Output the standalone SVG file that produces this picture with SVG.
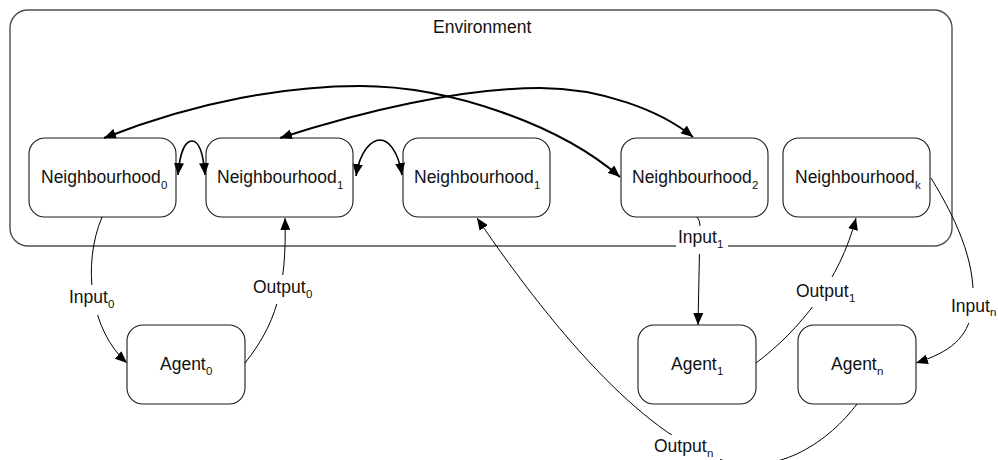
<svg xmlns="http://www.w3.org/2000/svg" width="998" height="460" viewBox="0 0 998 460">
  <defs>
    <style>
      .env { fill: #ffffff; stroke: #4d4d4d; stroke-width: 1.4; }
      .box { fill: #ffffff; stroke: #1a1a1a; stroke-width: 1.1; }
      .txt { font-family: "Liberation Sans", Arial, sans-serif; font-size: 17.5px; fill: #111111; }
      .sub { font-family: "Liberation Sans", Arial, sans-serif; font-size: 11.5px; fill: #111111; }
      .thick { fill: none; stroke: #000000; stroke-width: 2; }
      .thin { fill: none; stroke: #000000; stroke-width: 1; }
      .mid { fill: none; stroke: #000000; stroke-width: 1.6; }
      .lblbg { fill: #ffffff; stroke: none; }
    </style>
    <marker id="head" viewBox="0 0 12 10" refX="12" refY="5" markerWidth="12" markerHeight="10" markerUnits="userSpaceOnUse" orient="auto-start-reverse">
      <path d="M0,0 L12,5 L0,10 z" fill="#000000"/>
    </marker>
  </defs>

  <!-- environment frame -->
  <g id="environment">
    <rect class="env" x="10" y="10" width="942" height="236" rx="18" ry="18"/>
    <text class="txt" x="433" y="33">Environment</text>
  </g>

  <!-- neighbourhoods -->
  <g id="neighbourhood0">
    <rect class="box" x="29" y="138" width="147" height="79" rx="16" ry="16"/>
    <text class="txt" x="41" y="183">Neighbourhood</text>
    <text class="sub" x="161" y="189">0</text>
  </g>
  <g id="neighbourhood1a">
    <rect class="box" x="206" y="138" width="147" height="79" rx="16" ry="16"/>
    <text class="txt" x="217" y="183">Neighbourhood</text>
    <text class="sub" x="337" y="189">1</text>
  </g>
  <g id="neighbourhood1b">
    <rect class="box" x="403" y="138" width="147" height="79" rx="16" ry="16"/>
    <text class="txt" x="414" y="183">Neighbourhood</text>
    <text class="sub" x="534" y="189">1</text>
  </g>
  <g id="neighbourhood2">
    <rect class="box" x="621" y="138" width="147" height="79" rx="16" ry="16"/>
    <text class="txt" x="632" y="183">Neighbourhood</text>
    <text class="sub" x="752" y="189">2</text>
  </g>
  <g id="neighbourhoodk">
    <rect class="box" x="783" y="138" width="147" height="79" rx="16" ry="16"/>
    <text class="txt" x="795" y="183">Neighbourhood</text>
    <text class="sub" x="915" y="189">k</text>
  </g>

  <!-- agents -->
  <g id="agent0">
    <rect class="box" x="127" y="325" width="118" height="79" rx="16" ry="16"/>
    <text class="txt" x="160" y="370">Agent</text>
    <text class="sub" x="206" y="375">0</text>
  </g>
  <g id="agent1">
    <rect class="box" x="638" y="325" width="118" height="79" rx="16" ry="16"/>
    <text class="txt" x="671" y="370">Agent</text>
    <text class="sub" x="717" y="375">1</text>
  </g>
  <g id="agentn">
    <rect class="box" x="798" y="325" width="118" height="79" rx="16" ry="16"/>
    <text class="txt" x="831" y="370">Agent</text>
    <text class="sub" x="877" y="375">n</text>
  </g>

  <!-- connectors -->
  <g id="connectors">
    <!-- long links between neighbourhoods -->
    <path class="thick" d="M104,138 C200,100 290,86 360,86 C450,86 560,125 620,177" marker-start="url(#head)" marker-end="url(#head)"/>
    <path class="thick" d="M280,138 C360,112 460,88 540,88 C600,88 660,110 693,137" marker-start="url(#head)" marker-end="url(#head)"/>
    <!-- short links between adjacent neighbourhoods -->
    <path class="mid" d="M178,175 C180,150 186,141 192,141 C198,141 203,150 205,175" marker-start="url(#head)" marker-end="url(#head)"/>
    <path class="mid" d="M356,176 C360,150 372,140 380,140 C388,140 398,150 402,175" marker-start="url(#head)" marker-end="url(#head)"/>

    <!-- agent 0 -->
    <path class="thin" d="M102,217 C82,265 90,330 127,363" marker-end="url(#head)"/>
    <path class="thin" d="M245,363 C275,325 287,290 285,218" marker-end="url(#head)"/>
    <!-- agent 1 -->
    <path class="thin" d="M697,217 Q700,220 700,226 L698,325" marker-end="url(#head)"/>
    <path class="thin" d="M756,363 C800,330 840,280 856,218" marker-end="url(#head)"/>
    <!-- agent n -->
    <path class="thin" d="M931,178 C960,225 978,270 972,310 C968,338 950,352 916,363" marker-end="url(#head)"/>
    <path class="thin" d="M857,404 C830,440 780,476 725,461 C650,440 560,340 477,218" marker-end="url(#head)"/>

    <!-- connector labels -->
    <rect class="lblbg" x="68" y="285" width="48" height="30"/>
    <text class="txt" x="69" y="303">Input</text>
    <text class="sub" x="108" y="308">0</text>

    <rect class="lblbg" x="251" y="275" width="64" height="29"/>
    <text class="txt" x="253" y="293">Output</text>
    <text class="sub" x="306" y="298">0</text>

    <rect class="lblbg" x="676" y="226" width="52" height="28"/>
    <text class="txt" x="678" y="243">Input</text>
    <text class="sub" x="717" y="248">1</text>

    <rect class="lblbg" x="794" y="277" width="62" height="30"/>
    <text class="txt" x="796" y="297">Output</text>
    <text class="sub" x="849" y="302">1</text>

    <rect class="lblbg" x="948" y="288" width="50" height="35"/>
    <text class="txt" x="951" y="312">Input</text>
    <text class="sub" x="990" y="316">n</text>

    <rect class="lblbg" x="652" y="435" width="68" height="25"/>
    <text class="txt" x="654" y="452">Output</text>
    <text class="sub" x="707" y="457">n</text>
  </g>
</svg>
